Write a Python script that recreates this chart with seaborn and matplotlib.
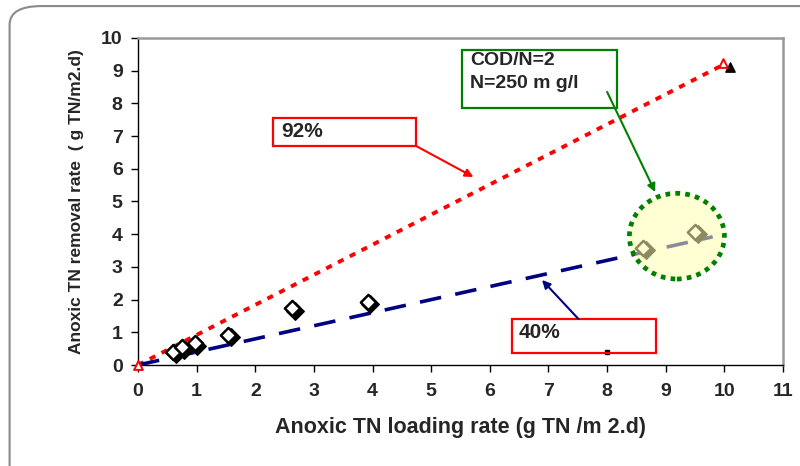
import numpy as np
import pandas as pd
import seaborn as sns
import matplotlib.pyplot as plt
from matplotlib.patches import Rectangle, Ellipse, FancyBboxPatch
from matplotlib.transforms import offset_copy

# measured points (loading rate, removal rate)
load_rate = [0.60, 0.75, 0.97, 1.54, 2.63, 3.92, 8.62, 9.50]
removal_rate = [0.40, 0.55, 0.67, 0.92, 1.74, 1.93, 3.58, 4.07]

# reference lines
line92_x = [0.0, 10.0]
line92_y = [0.0, 9.2]
line40_x = [0.0, 9.8]
line40_y = [0.0, 3.92]

# triangles
red_tri_x = [0.0, 9.98]
red_tri_y = [0.0, 9.24]
black_tri_x = [10.09]
black_tri_y = [9.11]

x_ticks = list(range(0, 12))
y_ticks = list(range(0, 11))

pts = pd.DataFrame({'x': load_rate, 'y': removal_rate})
l92 = pd.DataFrame({'x': line92_x, 'y': line92_y})
l40 = pd.DataFrame({'x': line40_x, 'y': line40_y})

sns.set_theme(style='white')
plt.rcParams['font.family'] = ['Liberation Sans', 'DejaVu Sans']
plt.rcParams['font.weight'] = 'bold'

fig = plt.figure(figsize=(8, 4.66), dpi=100)
ax = fig.add_axes([0.1725, 0.2167, 0.8063, 0.7018])

# outer rounded chart border
fig.patches.append(FancyBboxPatch((0.012, 0.012 - 0.2), 1.2, 0.975 + 0.2,
                                  boxstyle='round,pad=0,rounding_size=0.04',
                                  transform=fig.transFigure, fill=False,
                                  edgecolor='#8a8a8a', linewidth=1.5))

sns.lineplot(data=l92, x='x', y='y', ax=ax, color='#ff0000', linewidth=2.8,
             zorder=3)
ax.lines[-1].set_dashes((1.6, 1.8))
sns.lineplot(data=l40, x='x', y='y', ax=ax, color='#000080', linewidth=2.6,
             zorder=3)
ax.lines[-1].set_dashes((6.0, 4.0))

# diamonds with dark shadow
shadow = offset_copy(ax.transData, fig=fig, x=2.5, y=-2.5, units='dots')
ax.scatter(load_rate, removal_rate, marker='D', s=80, color='black',
           transform=shadow, zorder=4)
sns.scatterplot(data=pts, x='x', y='y', ax=ax, marker='D', s=60,
                facecolor='white', edgecolor='black', linewidth=1.8, zorder=5)

# triangles
ax.scatter(black_tri_x, black_tri_y, marker='^', s=45, color='black',
           zorder=5, clip_on=False)
ax.scatter(red_tri_x, red_tri_y, marker='^', s=40, facecolor='white',
           edgecolor='#ff0000', linewidth=1.4, zorder=6, clip_on=False)
ax.plot([7.99], [0.40], marker='s', ms=2.5, color='black', zorder=7)

# highlight circle
ax.add_patch(Ellipse((9.19, 3.94), 1.62, 2.62, facecolor='#ffffb0',
                     alpha=0.55, edgecolor='none', zorder=8))
circ = Ellipse((9.19, 3.94), 1.62, 2.62, fill=False, edgecolor='#008000',
               linewidth=3.4, linestyle=(0, (1.0, 1.1)), zorder=9)
ax.add_patch(circ)

# annotation boxes
ax.add_patch(Rectangle((2.30, 6.70), 2.44, 0.85, facecolor='white',
                       edgecolor='#ff0000', linewidth=1.6, zorder=10))
ax.text(2.44, 7.13, '92%', fontsize=15, fontweight='bold', va='center',
        zorder=11)
ax.annotate('', xy=(5.72, 5.75), xytext=(4.74, 6.70),
            arrowprops=dict(arrowstyle='-|>', color='#ff0000', lw=1.5,
                            mutation_scale=12, shrinkA=0, shrinkB=0), zorder=10)

ax.add_patch(Rectangle((5.53, 7.86), 2.63, 1.77, facecolor='white',
                       edgecolor='#008000', linewidth=1.6, zorder=10))
ax.text(5.67, 9.30, 'COD/N=2', fontsize=14, fontweight='bold', va='center',
        zorder=11)
ax.text(5.67, 8.62, 'N=250 m g/l', fontsize=14, fontweight='bold',
        va='center', zorder=11)
ax.annotate('', xy=(8.82, 5.29), xytext=(8.0, 8.35),
            arrowprops=dict(arrowstyle='-|>', color='#008000', lw=1.5,
                            mutation_scale=12, shrinkA=0, shrinkB=0), zorder=12)

ax.add_patch(Rectangle((6.38, 0.37), 2.46, 1.04, facecolor='none',
                       edgecolor='#ff0000', linewidth=1.6, zorder=10))
ax.text(6.49, 0.98, '40%', fontsize=15, fontweight='bold', va='center',
        zorder=11)
ax.annotate('', xy=(6.89, 2.60), xytext=(7.51, 1.41),
            arrowprops=dict(arrowstyle='-|>', color='#000080', lw=1.5,
                            mutation_scale=12, shrinkA=0, shrinkB=0), zorder=10)

# axes
ax.set_xlim(0, 11)
ax.set_ylim(0, 10)
ax.set_xticks(x_ticks)
ax.set_yticks(y_ticks)
ax.tick_params(axis='both', direction='out', length=5, width=1, color='black',
               labelsize=14, left=True, bottom=True)
ax.tick_params(axis='x', pad=8)
ax.tick_params(axis='y', pad=6)
for lab in ax.get_xticklabels() + ax.get_yticklabels():
    lab.set_fontweight('bold')
ax.set_xlabel('Anoxic TN loading rate (g TN /m 2.d)', fontsize=15.5,
              fontweight='bold', labelpad=12)
ax.set_ylabel('Anoxic TN removal rate  ( g TN/m2.d)', fontsize=12.5,
              fontweight='bold', labelpad=12)
for s in ['left', 'bottom']:
    ax.spines[s].set_color('black')
    ax.spines[s].set_linewidth(1.0)
for s in ['top', 'right']:
    ax.spines[s].set_color('#999999')
    ax.spines[s].set_linewidth(1.8)
ax.grid(False)

fig.savefig('out.png', dpi=100)
